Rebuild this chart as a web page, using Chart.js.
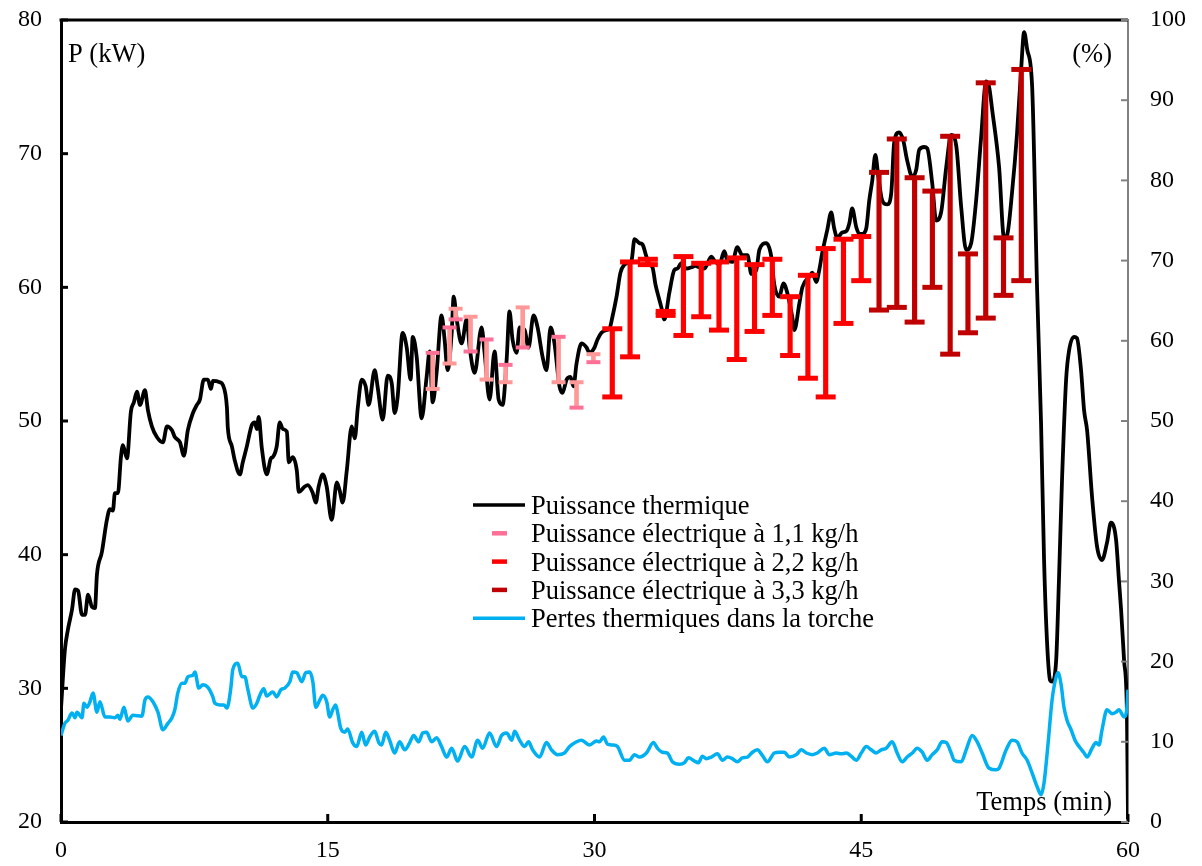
<!DOCTYPE html>
<html>
<head>
<meta charset="utf-8">
<script src="https://cdn.jsdelivr.net/npm/chart.js@4.4.1/dist/chart.umd.min.js"></script>
<style>
  body { margin: 0; background: #fff; }
  #wrap { width: 1202px; height: 866px; }
</style>
</head>
<body>
<div id="wrap"><canvas id="chart"></canvas></div>
<script>
// thermal power (kW) against time (min)
const thermTime = [0,0.22,0.39,0.62,0.79,0.96,1.18,1.35,1.52,1.74,1.91,2.02,2.30,2.58,2.75,2.92,3.03,3.20,3.37,3.48,3.71,3.93,4.10,4.27,4.44,4.72,4.89,5.11,5.39,5.73,5.96,6.24,6.40,6.69,6.91,7.13,7.42,7.64,7.81,8.03,8.26,8.43,8.54,8.93,9.10,9.33,9.38,9.61,9.78,10.06,10.22,10.45,10.73,10.90,11.01,11.12,11.29,11.57,11.80,11.91,12.13,12.30,12.47,12.70,12.81,13.03,13.26,13.37,13.71,13.88,14.16,14.33,14.49,14.72,14.94,15.22,15.51,15.67,15.84,16.07,16.35,16.52,16.69,16.91,17.13,17.30,17.64,17.81,18.09,18.37,18.60,18.76,18.93,19.21,19.44,19.66,19.78,20.00,20.28,20.56,20.73,20.90,21.12,21.40,21.57,21.74,21.97,22.08,22.25,22.53,22.81,22.98,23.26,23.65,23.82,24.10,24.38,24.61,24.83,25.06,25.22,25.39,25.62,25.79,26.07,26.29,26.57,26.80,27.08,27.30,27.53,27.75,28.03,28.20,28.43,28.65,28.82,28.99,29.27,29.55,29.72,30.00,30.17,30.39,30.67,30.84,31.01,31.24,31.46,31.69,31.85,32.08,32.25,32.53,32.70,32.92,33.09,33.26,33.43,33.60,33.76,33.93,34.21,34.49,34.66,34.89,35.17,35.45,35.67,35.90,36.18,36.57,36.74,37.02,37.30,37.47,37.75,38.03,38.31,38.60,38.82,39.10,39.27,39.66,39.94,40.11,40.39,40.62,40.84,41.12,41.24,41.52,41.69,42.08,42.25,42.47,42.64,42.81,43.09,43.31,43.48,43.65,43.93,44.16,44.33,44.49,44.72,44.89,45.06,45.28,45.45,45.62,45.79,45.96,46.18,46.46,46.69,46.85,47.13,47.36,47.58,47.87,48.09,48.26,48.54,48.71,48.99,49.21,49.49,49.78,50.06,50.34,50.62,50.90,51.18,51.46,51.74,52.02,52.19,52.36,52.75,53.03,53.20,53.48,53.76,53.99,54.16,54.33,54.61,54.89,55.11,55.28,55.45,55.62,55.73,55.96,56.12,56.29,56.52,56.69,56.97,57.13,57.36,57.53,57.70,57.98,58.26,58.54,58.82,59.04,59.33,59.49,59.61,59.78,59.94,60.00];
const thermPower = [28.5,32.9,34.4,35.9,37.4,37.3,35.5,35.5,37.0,36.1,36.0,38.5,40.2,42.6,43.4,43.3,44.6,44.6,47.3,48.2,47.2,50.7,51.4,52.2,51.2,52.3,50.8,49.6,48.8,48.4,49.6,49.3,48.8,48.4,47.4,49.3,50.6,51.2,51.6,53.1,53.1,52.4,53.0,52.9,52.7,51.0,49.5,48.1,47.0,46.0,46.9,48.1,49.7,49.9,49.4,50.3,48.0,46.0,47.2,47.3,48.1,49.9,49.4,49.2,46.9,47.3,46.3,44.7,45.1,45.2,44.6,43.9,45.1,46.0,45.1,42.6,45.4,44.8,43.9,46.3,49.6,48.7,51.0,53.1,52.6,51.2,53.8,52.5,50.1,53.4,52.8,50.6,51.8,56.6,55.5,53.1,56.3,54.8,50.2,53.3,55.2,51.4,53.6,57.9,56.1,53.8,56.6,59.3,57.6,55.8,57.6,55.5,53.6,57.0,55.1,51.6,55.2,51.6,51.2,54.6,58.2,56.1,55.1,57.0,56.8,55.5,57.9,57.0,54.8,53.8,57.0,55.8,52.6,52.1,53.1,53.3,52.6,54.3,55.8,55.5,55.1,55.5,56.1,56.6,56.8,56.9,57.8,59.3,61.1,61.7,61.8,62.0,63.6,63.3,63.2,62.3,61.7,61.5,60.2,59.3,58.5,57.6,59.6,61.3,61.4,61.8,61.4,61.5,61.6,61.5,61.4,62.3,62.0,61.7,62.7,62.0,61.9,63.0,62.4,62.4,61.0,61.3,62.8,63.3,62.3,60.2,59.3,60.3,59.6,57.8,56.8,58.8,60.0,60.8,61.1,60.4,61.3,62.6,64.3,65.6,64.4,63.7,64.1,64.2,64.8,65.9,64.5,64.0,64.0,64.4,66.5,68.0,69.9,68.3,66.5,66.2,67.1,70.8,71.6,71.0,69.5,68.3,68.8,70.3,70.5,70.4,67.8,65.0,65.6,69.0,71.4,70.6,66.0,62.8,63.3,66.5,71.2,75.4,75.0,73.3,69.0,63.7,63.9,67.1,71.5,76.3,79.1,77.8,75.0,59.8,49.9,39.6,33.4,30.6,30.5,32.1,38.2,45.6,53.1,55.3,56.3,56.2,53.8,50.8,49.3,44.3,40.6,39.6,40.9,42.4,41.1,38.1,35.9,32.1,28.2,20.2];

// torch thermal losses (%) against time (min)
const lossTime = [0,0.22,0.39,0.62,0.79,0.90,1.18,1.29,1.46,1.63,1.80,2.02,2.19,2.47,2.75,3.03,3.20,3.31,3.54,3.76,4.04,4.55,4.72,4.89,5.17,5.45,5.73,6.01,6.24,6.40,6.57,6.80,6.97,7.13,7.42,7.53,7.75,7.98,8.26,8.54,8.65,8.93,9.16,9.33,9.55,9.66,9.94,10.17,10.34,10.51,10.79,11.01,11.18,11.40,11.57,11.80,11.91,12.13,12.36,12.58,12.87,13.03,13.26,13.54,13.76,13.99,14.16,14.33,14.55,14.72,14.94,15.11,15.28,15.45,15.56,15.73,15.96,16.12,16.40,16.63,16.91,17.13,17.36,17.64,17.87,18.03,18.26,18.48,18.76,19.04,19.33,19.61,19.83,20.11,20.34,20.56,20.84,21.12,21.40,21.69,21.97,22.30,22.70,23.09,23.43,23.71,24.10,24.49,24.78,25.06,25.34,25.51,25.79,26.07,26.29,26.52,26.91,27.30,27.58,27.92,28.31,28.60,28.99,29.27,29.72,30.11,30.28,30.51,30.73,31.01,31.29,31.69,31.97,32.25,32.53,32.92,33.31,33.54,33.82,34.10,34.38,34.78,35.06,35.28,35.62,35.84,36.07,36.29,36.57,36.91,37.19,37.47,37.75,38.03,38.31,38.60,38.88,39.16,39.44,39.72,40.11,40.39,40.67,40.96,41.35,41.63,41.91,42.25,42.53,42.92,43.20,43.60,43.88,44.16,44.44,44.72,45.00,45.28,45.56,45.84,46.12,46.40,46.74,47.02,47.30,47.58,47.87,48.15,48.43,48.71,48.99,49.27,49.55,49.78,50.06,50.22,50.62,50.90,51.24,51.52,51.80,52.19,52.58,52.75,53.15,53.48,53.76,54.04,54.33,54.61,54.89,55.11,55.28,55.51,55.73,55.96,56.07,56.24,56.40,56.57,56.80,57.02,57.25,57.53,57.70,57.98,58.20,58.37,58.54,58.82,59.10,59.33,59.49,59.78,59.94,60.00];
const lossPct = [10.8,12.3,12.7,13.6,13.0,13.7,13.0,14.8,14.3,15.0,16.1,13.7,15.0,13.1,13.1,13.0,13.3,12.8,14.3,12.6,13.3,13.2,15.2,15.6,15.0,13.7,11.5,12.3,13.0,14.0,16.1,17.3,17.3,18.1,18.3,18.7,16.7,17.1,16.8,15.6,14.8,14.6,14.6,14.2,16.7,19.0,19.8,18.1,18.1,16.5,14.2,14.8,15.8,16.6,15.7,16.1,16.2,15.6,16.5,16.7,17.5,18.7,18.6,17.5,18.6,18.7,17.5,14.3,15.2,15.8,15.0,13.1,14.0,14.6,13.6,11.7,11.2,11.6,9.9,9.4,11.2,9.6,10.6,11.3,9.9,9.6,11.2,10.2,8.6,10.0,9.0,9.9,10.8,10.0,11.1,11.2,10.0,10.5,9.4,8.1,9.2,7.6,9.4,8.1,10.2,9.2,11.1,9.4,10.8,11.1,10.2,11.3,10.2,9.4,10.0,9.0,8.1,9.9,9.0,8.4,8.6,9.4,10.0,10.2,9.6,10.1,10.0,10.6,9.7,9.6,9.4,7.7,7.7,8.4,8.1,8.6,9.9,9.2,8.7,8.6,7.5,7.2,7.4,8.0,7.6,7.4,8.2,7.9,8.1,8.5,7.7,8.1,7.9,7.5,8.0,8.1,8.7,9.0,8.3,7.5,8.6,8.7,8.7,8.1,8.4,9.0,8.6,8.4,8.6,9.2,8.4,8.6,8.5,8.6,8.2,7.7,8.6,9.4,9.0,8.6,9.0,9.2,10.0,8.6,7.5,8.1,8.6,9.2,8.7,7.7,8.4,9.0,10.0,9.9,8.6,7.7,7.5,9.0,10.8,10.0,8.6,6.7,6.5,6.7,9.0,10.2,10.0,8.6,7.7,6.1,4.4,3.4,4.9,9.9,15.2,18.1,18.6,17.1,14.3,12.7,11.5,10.2,9.4,8.6,8.1,9.2,9.9,9.6,11.5,14.0,13.5,13.7,14.0,13.1,14.3,16.5];

// electrical power (kW): marker value and the other end of its bar
const e11Time = [20.90,21.85,22.19,23.03,23.93,25.00,25.96,27.98,28.99,29.94];
const e11Elec = [55.1,57.0,57.6,55.2,56.1,54.2,55.5,56.3,51.0,54.4];
const e11Ref  = [52.4,54.3,58.4,57.8,53.1,52.9,58.5,52.9,52.9,55.0];

const e22Time = [31,32,33,34,35,36,37,38,39,40,41,42,43,44,45];
const e22Elec = [56.9,61.9,62.1,58.2,62.3,61.8,61.9,62.2,61.7,62.1,59.3,60.9,62.9,63.6,63.8];
const e22Ref  = [51.8,54.8,61.7,57.9,56.4,57.8,56.8,54.6,56.7,57.9,54.9,53.2,51.8,57.3,60.5];

const e33Time = [46,47,48,49,50,51,52,53,54];
const e33Elec = [68.6,71.1,68.2,67.2,71.3,62.5,75.3,63.7,76.3];
const e33Ref  = [58.3,58.5,57.4,60.0,55.0,56.6,57.7,59.4,60.5];

const labels = [
  "Puissance thermique",
  "Puissance électrique à 1,1 kg/h",
  "Puissance électrique à 2,2 kg/h",
  "Puissance électrique à 3,3 kg/h",
  "Pertes thermiques dans la torche"
];
const xTicks = [0, 15, 30, 45, 60];

const FONT = '"Liberation Serif", "Times New Roman", serif';

function pts(times, vals) {
  return times.map((t, i) => ({ x: t, y: vals[i] }));
}
function spans(times, a, b) {
  return times.map((t, i) => ({ x: t, y: [Math.min(a[i], b[i]), Math.max(a[i], b[i])] }));
}

function errorSeries(times, elec, ref, barColor, markColor, capR, capW, barW) {
  return [
    { type: 'bar', data: spans(times, elec, ref), backgroundColor: barColor,
      barThickness: barW, grouped: false, order: 5, yAxisID: 'y' },
    { type: 'line', data: pts(times, ref), showLine: false, pointStyle: 'line',
      pointRadius: capR, pointHoverRadius: capR, pointBorderWidth: capW,
      borderColor: barColor, pointBorderColor: barColor, order: 4, yAxisID: 'y' },
    { type: 'line', data: pts(times, elec), showLine: false, pointStyle: 'line',
      pointRadius: capR, pointHoverRadius: capR, pointBorderWidth: capW,
      borderColor: markColor, pointBorderColor: markColor, order: 3, yAxisID: 'y' }
  ];
}

const datasets = [
  { type: 'line', label: labels[0], data: pts(thermTime, thermPower), borderColor: '#000',
    borderWidth: 3.8, pointRadius: 0, cubicInterpolationMode: 'monotone', order: 10, yAxisID: 'y' },
  { type: 'line', label: labels[4], data: pts(lossTime, lossPct), borderColor: '#00B0F0',
    borderWidth: 3.5, pointRadius: 0, cubicInterpolationMode: 'monotone', order: 9, yAxisID: 'y2' },
  ...errorSeries(e11Time, e11Elec, e11Ref, '#FF9999', '#FF7096', 7, 4, 4),
  ...errorSeries(e22Time, e22Elec, e22Ref, '#FF0000', '#FF0000', 10, 5, 4.5),
  ...errorSeries(e33Time, e33Elec, e33Ref, '#C00000', '#C00000', 10, 5, 4.5)
];

// legend entries: [label, kind, colour]
const legendItems = [
  [labels[0], 'line', '#000'],
  [labels[1], 'dash', '#FF7096'],
  [labels[2], 'dash', '#FF0000'],
  [labels[3], 'dash', '#C00000'],
  [labels[4], 'line', '#00B0F0']
];

const framePlugin = {
  id: 'frame',
  afterDraw(chart) {
    const { ctx, chartArea: a, scales } = chart;
    ctx.save();
    // top border
    ctx.strokeStyle = '#000';
    ctx.lineWidth = 3;
    ctx.beginPath();
    ctx.moveTo(a.left - 1.5, a.top);
    ctx.lineTo(a.right, a.top);
    ctx.stroke();

    // inward tick marks
    scales.x.ticks.forEach(t => {
      const px = scales.x.getPixelForValue(t.value);
      ctx.beginPath(); ctx.moveTo(px, a.bottom); ctx.lineTo(px, a.bottom - 8); ctx.stroke();
    });
    scales.y.ticks.forEach(t => {
      const py = scales.y.getPixelForValue(t.value);
      ctx.beginPath(); ctx.moveTo(a.left, py); ctx.lineTo(a.left + 7, py); ctx.stroke();
    });
    ctx.strokeStyle = '#808080';
    ctx.lineWidth = 2;
    scales.y2.ticks.forEach(t => {
      const py = scales.y2.getPixelForValue(t.value);
      ctx.beginPath(); ctx.moveTo(a.right, py); ctx.lineTo(a.right - 7, py); ctx.stroke();
    });

    // axis captions inside the plot
    ctx.fillStyle = '#000';
    ctx.font = '26.5px ' + FONT;
    ctx.textAlign = 'left';
    ctx.fillText('P (kW)', a.left + 7, a.top + 42);
    ctx.textAlign = 'right';
    ctx.fillText('(%)', a.right - 16, a.top + 42);
    ctx.fillText('Temps (min)', a.right - 16, a.bottom - 12);

    // legend
    const lx = 473, ly = 514, step = 28.3;
    ctx.textAlign = 'left';
    legendItems.forEach((it, i) => {
      const y = ly + i * step;
      const mid = y - 9;
      ctx.strokeStyle = it[2];
      if (it[1] === 'line') {
        ctx.lineWidth = 3.5;
        ctx.beginPath(); ctx.moveTo(lx, mid); ctx.lineTo(lx + 52, mid); ctx.stroke();
      } else {
        ctx.lineWidth = 4.5;
        ctx.beginPath(); ctx.moveTo(lx + 19, mid); ctx.lineTo(lx + 34, mid); ctx.stroke();
      }
      ctx.fillText(it[0], lx + 58, y);
    });
    ctx.restore();
  }
};

const tickFont = { family: FONT, size: 24 };

// fixed axis sizes so the plot area sits where the original has it
function fixY(width) {
  return s => { s.width = width; s.paddingTop = 0; s.paddingBottom = 0; };
}

new Chart(document.getElementById('chart'), {
  type: 'line',
  data: { datasets },
  options: {
    responsive: true,
    maintainAspectRatio: false,
    animation: false,
    events: [],
    layout: { padding: { top: 20, left: 0, right: 0, bottom: 0 } },
    plugins: { legend: { display: false }, tooltip: { enabled: false } },
    scales: {
      x: {
        type: 'linear', min: 0, max: 60, offset: false,
        afterBuildTicks: s => { s.ticks = xTicks.map(v => ({ value: v })); },
        afterFit: s => { s.height = 44; },
        grid: { drawOnChartArea: false, drawTicks: false },
        border: { color: '#000', width: 3 },
        ticks: { font: tickFont, color: '#000', padding: 14, maxRotation: 0 }
      },
      y: {
        position: 'left', min: 20, max: 80,
        afterFit: fixY(61),
        grid: { drawOnChartArea: false, drawTicks: false },
        border: { color: '#000', width: 3 },
        ticks: { stepSize: 10, font: tickFont, color: '#000', padding: 19 }
      },
      y2: {
        position: 'right', min: 0, max: 100,
        afterFit: fixY(74),
        grid: { drawOnChartArea: false, drawTicks: false },
        border: { color: '#808080', width: 2 },
        ticks: { stepSize: 10, font: tickFont, color: '#000', padding: 22, autoSkip: false }
      }
    }
  },
  plugins: [framePlugin]
});
</script>
</body>
</html>
